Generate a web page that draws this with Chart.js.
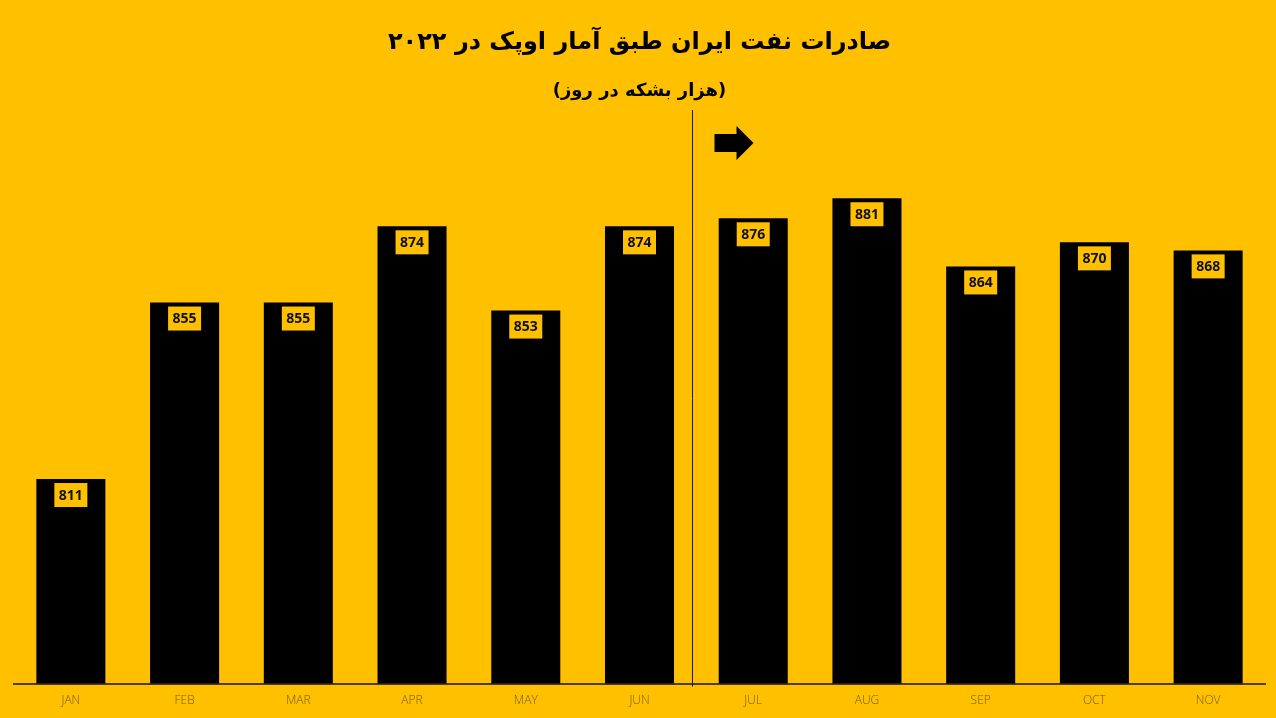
<!DOCTYPE html>
<html lang="fa">
<head>
    <meta charset="UTF-8">
    <title>صادرات نفت ایران</title>
    <style>
        html, body { margin: 0; padding: 0; background: #FFC000; }
        #wrap { width: 1276px; height: 718px; }
    </style>
</head>
<body>
<div id="wrap">
    <canvas id="oil-chart"></canvas>
</div>

<script src="https://cdn.jsdelivr.net/npm/chart.js@4/dist/chart.umd.min.js"></script>
<script>
    // Monthly Iranian oil exports per OPEC (thousand barrels per day)
    const months = ['JAN', 'FEB', 'MAR', 'APR', 'MAY', 'JUN', 'JUL', 'AUG', 'SEP', 'OCT', 'NOV'];
    const exportsKbd = [811, 855, 855, 874, 853, 874, 876, 881, 864, 870, 868];
    const titleText = 'صادرات نفت ایران طبق آمار اوپک در ۲۰۲۲';
    const subtitleText = '(هزار بشکه در روز)';
    // index of the last month before the divider line
    const dividerAfter = 5;

    // Yellow boxed value labels inside the top of each bar
    const valueBoxes = {
        id: 'valueBoxes',
        afterDatasetsDraw(chart) {
            const ctx = chart.ctx;
            const meta = chart.getDatasetMeta(0);
            ctx.save();
            ctx.font = 'bold 14px "Open Sans", sans-serif';
            ctx.textAlign = 'center';
            ctx.textBaseline = 'middle';
            meta.data.forEach((bar, i) => {
                ctx.fillStyle = '#FFC000';
                ctx.fillRect(bar.x - 16.5, bar.y + 4, 33, 24);
                ctx.fillStyle = '#111';
                ctx.fillText(String(exportsKbd[i]), bar.x, bar.y + 16.5);
            });
            ctx.restore();
        }
    };

    // Vertical divider between JUN and JUL, with an arrow pointing right
    const divider = {
        id: 'divider',
        afterDraw(chart) {
            const ctx = chart.ctx;
            const xScale = chart.scales.x;
            const step = xScale.getPixelForValue(dividerAfter + 1) - xScale.getPixelForValue(dividerAfter);
            const x = Math.round(xScale.getPixelForValue(dividerAfter) + step / 2 - 4) + 0.5;
            const top = chart.chartArea.top;
            ctx.save();
            ctx.strokeStyle = '#1a1a1a';
            ctx.lineWidth = 1;
            ctx.beginPath();
            ctx.moveTo(x, top);
            ctx.lineTo(x, chart.chartArea.bottom + 3);
            ctx.stroke();

            // arrow
            const ax = x + 22;
            const ay = top + 33;
            ctx.fillStyle = '#000';
            ctx.beginPath();
            ctx.moveTo(ax, ay - 9);
            ctx.lineTo(ax + 22, ay - 9);
            ctx.lineTo(ax + 22, ay - 17);
            ctx.lineTo(ax + 39, ay);
            ctx.lineTo(ax + 22, ay + 17);
            ctx.lineTo(ax + 22, ay + 9);
            ctx.lineTo(ax, ay + 9);
            ctx.closePath();
            ctx.fill();
            ctx.restore();
        }
    };

    new Chart(document.getElementById('oil-chart'), {
        type: 'bar',
        data: {
            labels: months,
            datasets: [{
                data: exportsKbd,
                backgroundColor: '#000',
                barPercentage: 0.607,
                categoryPercentage: 1.0
            }]
        },
        options: {
            responsive: true,
            maintainAspectRatio: false,
            animation: false,
            layout: {
                padding: { left: 14, right: 11, top: 0, bottom: 0 }
            },
            plugins: {
                legend: { display: false },
                tooltip: { enabled: false },
                title: {
                    display: true,
                    text: titleText,
                    color: '#000',
                    font: { family: '"DejaVu Sans", sans-serif', size: 24, weight: 'bold' },
                    padding: { top: 28, bottom: 0 }
                },
                subtitle: {
                    display: true,
                    text: subtitleText,
                    color: '#000',
                    font: { family: '"DejaVu Sans", sans-serif', size: 18, weight: 'bold' },
                    padding: { top: 24, bottom: 7.6 }
                }
            },
            scales: {
                x: {
                    grid: { display: false, drawTicks: false },
                    border: { display: true, color: '#4f3d0c', width: 2 },
                    ticks: {
                        color: '#735c1e',
                        padding: 10,
                        font: { family: '"Open Sans", sans-serif', size: 12, weight: '300' }
                    }
                },
                y: {
                    display: false,
                    min: 760,
                    max: 903
                }
            }
        },
        plugins: [valueBoxes, divider]
    });
</script>
</body>
</html>
